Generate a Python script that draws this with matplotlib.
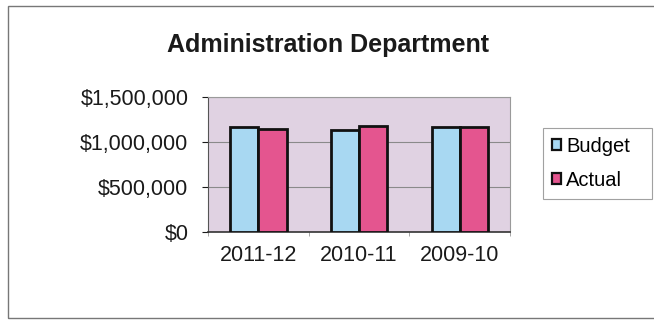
import matplotlib.pyplot as plt
import numpy as np
from matplotlib.patches import Rectangle
from matplotlib.ticker import FuncFormatter

years = ['2011-12', '2010-11', '2009-10']
budget = [1165000, 1130000, 1165000]
actual = [1140000, 1175000, 1165000]

plt.rcParams['font.family'] = ['Liberation Sans', 'DejaVu Sans']

fig = plt.figure(figsize=(6.54, 3.22), dpi=100)
ax = fig.add_axes([0.318, 0.281, 0.462, 0.418])

x = np.arange(len(years)) + 0.5
w = 0.28
ax.bar(x - w / 2, budget, w, color='#a8d8f2', edgecolor='#111111', linewidth=2.0, label='Budget', zorder=3)
ax.bar(x + w / 2, actual, w, color='#e4558f', edgecolor='#111111', linewidth=2.0, label='Actual', zorder=3)

ax.set_facecolor('#e0d2e2')
ax.set_xlim(0, len(years))
ax.set_ylim(0, 1500000)
ax.set_yticks([0, 500000, 1000000, 1500000])
ax.yaxis.set_major_formatter(FuncFormatter(lambda v, p: f'${v:,.0f}'))
ax.grid(axis='y', color='#8a8a8a', linewidth=0.8, zorder=1)

ax.set_xticks(x)
ax.set_xticklabels(years)
ax.set_xticks(np.arange(len(years) + 1), minor=True)
ax.tick_params(axis='x', which='major', length=0, pad=10, labelsize=15.5, colors='#1a1a1a')
ax.tick_params(axis='x', which='minor', length=3, color='#999999')
ax.tick_params(axis='y', length=4, pad=10, labelsize=15.5, colors='#1a1a1a')

for side in ['top', 'right']:
    ax.spines[side].set_color('#9a9a9a')
    ax.spines[side].set_linewidth(0.8)
ax.spines['left'].set_color('#555555')
ax.spines['bottom'].set_color('#333333')
ax.spines['bottom'].set_linewidth(1.2)

fig.text(0.502, 0.86, 'Administration Department', ha='center', va='center',
         fontsize=18, fontweight='bold', color='#1a1a1a')

# legend box stretched to a fixed width
leg = fig.legend(loc='upper left', bbox_to_anchor=(543 / 654, 0.388, 109 / 654, 0.216),
                 mode='expand', fontsize=14.5,
                 frameon=True, fancybox=False, edgecolor='#8a8a8a',
                 handlelength=0.45, handleheight=0.45, handletextpad=0.25,
                 borderpad=0.45, borderaxespad=0, labelspacing=0.75)
leg.get_frame().set_linewidth(0.8)
for h in leg.legend_handles:
    h.set_linewidth(1.6)

# chart border
fig.patches.append(Rectangle((8 / 654, 4 / 322), 0.99, 312 / 322, transform=fig.transFigure,
                             fill=False, edgecolor='#777777', linewidth=1.0))

fig.savefig('out.png', dpi=100, facecolor='white')
